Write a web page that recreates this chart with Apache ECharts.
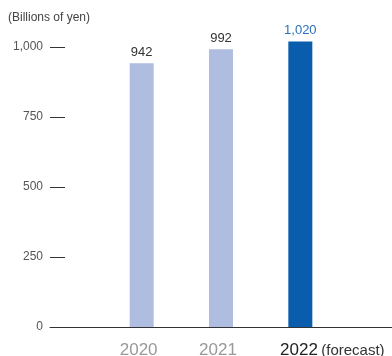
<!DOCTYPE html>
<html>
<head>
<meta charset="utf-8">
<script src="https://cdn.jsdelivr.net/npm/echarts@6/dist/echarts.min.js"></script>
<style>
  html, body { margin: 0; padding: 0; background: #fff; }
  #chart { width: 392px; height: 356px; }
</style>
</head>
<body>
<div id="chart"></div>
<script>
var years = ['2020', '2021', '2022'];
var sales = [942, 992, 1020];
var barColors = ['#afbde0', '#afbde0', '#0a5cad'];
var labelColors = ['#333333', '#333333', '#2a6fbd'];
var yTicks = [0, 250, 500, 750, 1000];

var myChart = echarts.init(document.getElementById('chart'));
var font = 'Helvetica, Arial, "Liberation Sans", sans-serif';

var option = {
    backgroundColor: '#fff',
    animation: false,
    title: {
        text: '(Billions of yen)',
        left: 3,
        top: 7,
        textStyle: { fontSize: 12, fontWeight: 'normal', color: '#444', fontFamily: font }
    },
    grid: [
        // bars
        { left: 102, right: 52, top: 19, bottom: 29, outerBoundsMode: 'none', containLabel: false },
        // full width baseline + y ticks
        { left: 50, right: 0, top: 19, bottom: 29, outerBoundsMode: 'none', containLabel: false }
    ],
    xAxis: [
        {
            type: 'category',
            gridIndex: 0,
            data: years,
            axisLine: { show: false },
            axisTick: { show: false },
            axisLabel: {
                interval: 0,
                hideOverlap: false,
                margin: 15,
                fontFamily: font,
                formatter: function (val) {
                    if (val === '2022') {
                        return '{p|}{y|' + val + '} {f|(forecast)}';
                    }
                    return '{g|' + val + '}';
                },
                rich: {
                    g: { fontSize: 17, color: '#999', fontFamily: font, padding: [0, 6, 0, 0] },
                    y: { fontSize: 17, color: '#222', fontFamily: font },
                    f: { fontSize: 15, color: '#333', fontFamily: font },
                    p: { width: 64 }
                }
            }
        },
        {
            type: 'value',
            gridIndex: 1,
            min: 0,
            max: 1,
            axisLine: { show: true, lineStyle: { color: '#333', width: 1 } },
            axisTick: { show: false },
            axisLabel: { show: false },
            splitLine: { show: false }
        }
    ],
    yAxis: [
        {
            type: 'value',
            gridIndex: 0,
            min: 0,
            max: 1100,
            show: false
        },
        {
            type: 'value',
            gridIndex: 1,
            min: 0,
            max: 1100,
            axisLine: { show: false },
            splitLine: { show: false },
            axisTick: {
                show: true,
                inside: true,
                length: 15,
                customValues: yTicks,
                lineStyle: { color: '#333', width: 1 }
            },
            axisLabel: {
                margin: 7,
                customValues: yTicks,
                color: '#555',
                fontSize: 12,
                fontFamily: font,
                formatter: function (v) {
                    return v.toLocaleString('en-US');
                }
            }
        }
    ],
    series: [
        {
            type: 'bar',
            xAxisIndex: 0,
            yAxisIndex: 0,
            barWidth: 24,
            data: sales.map(function (v, i) {
                return {
                    value: v,
                    itemStyle: { color: barColors[i] },
                    label: { color: labelColors[i] }
                };
            }),
            label: {
                show: true,
                position: 'top',
                distance: 4,
                fontSize: 13,
                fontFamily: font,
                formatter: function (p) {
                    return p.value.toLocaleString('en-US');
                }
            }
        }
    ]
};

myChart.setOption(option);
</script>
</body>
</html>
